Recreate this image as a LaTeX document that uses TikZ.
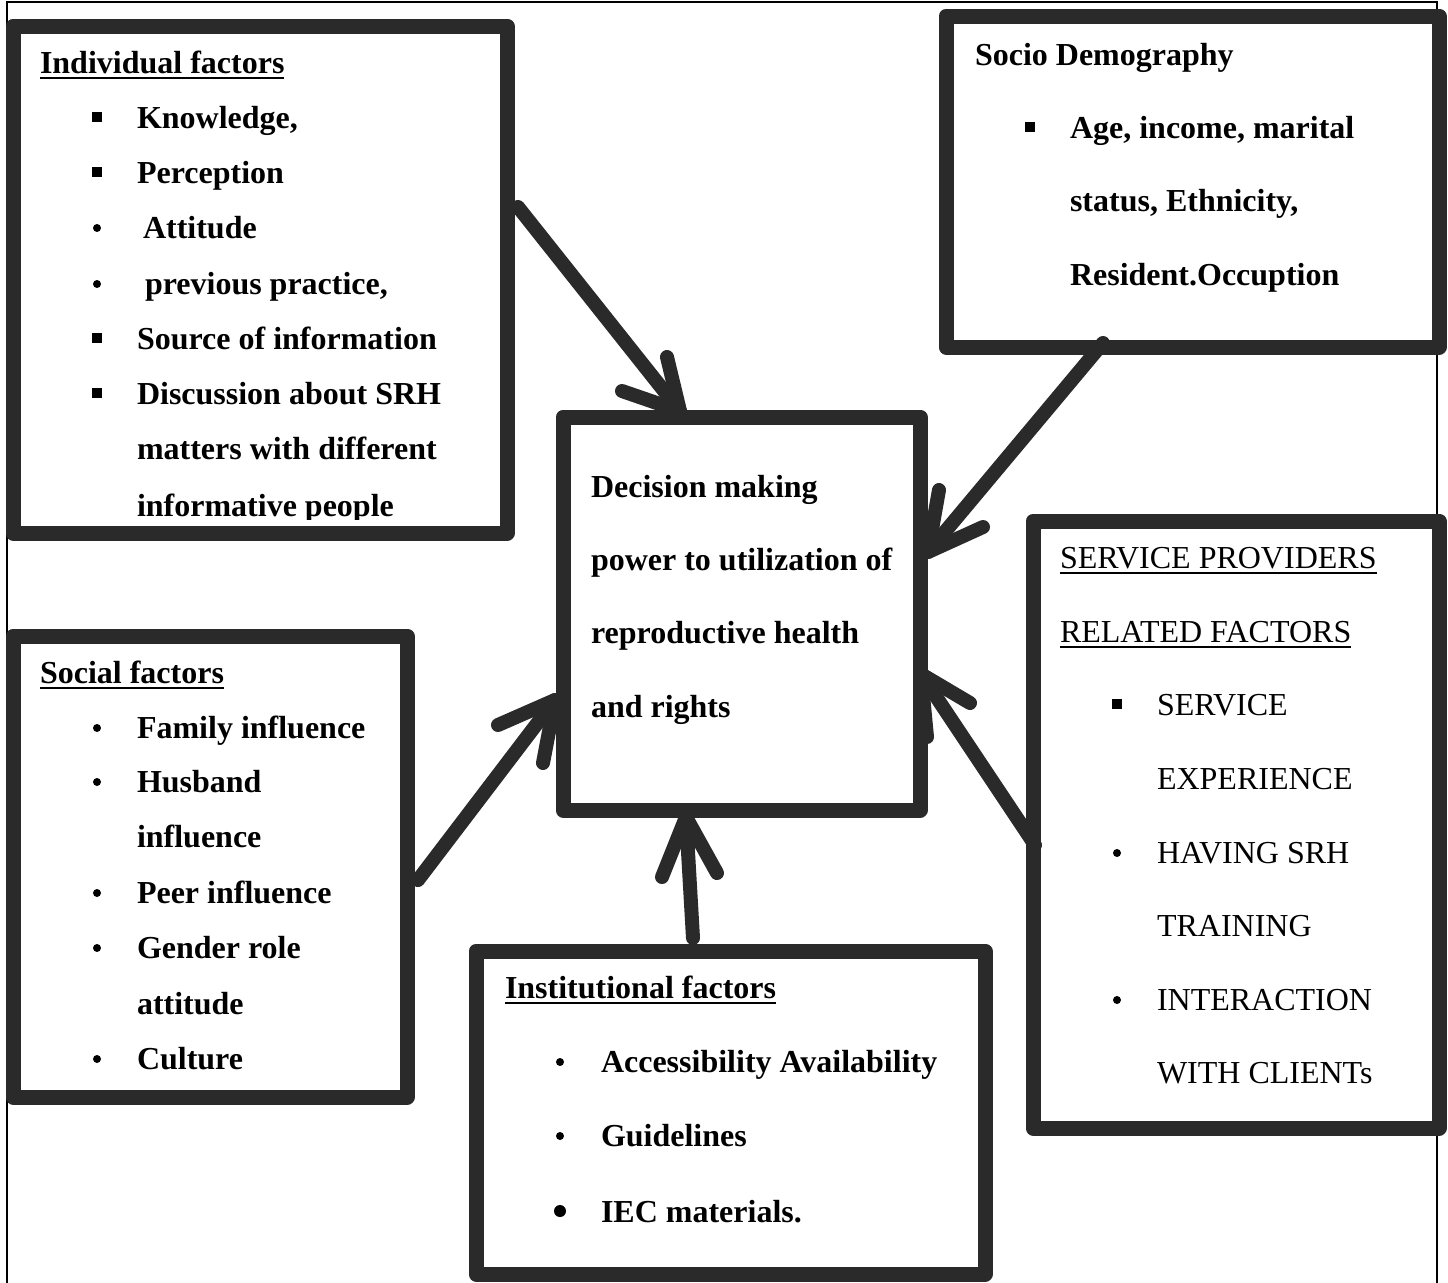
\documentclass[tikz,border=0pt]{standalone}
\usepackage{fontspec}
\setmainfont{Liberation Serif}
\definecolor{boxgray}{HTML}{2A2A2A}
\tikzset{
  box/.style={draw=boxgray, line width=7.5pt, line join=round, fill=white, inner sep=0pt, outer sep=0pt},
  arr/.style={draw=boxgray, line width=7pt, line cap=round, line join=round},
  txt/.style={anchor=base west, inner sep=0pt, outer sep=0pt, font=\fontsize{16}{19}\selectfont\bfseries},
  txtr/.style={anchor=base west, inner sep=0pt, outer sep=0pt, font=\fontsize{16}{19}\selectfont},
  uline/.style={line width=1.1pt, black},
  frame/.style={line width=1pt, black}
}
\newcommand{\sqb}[2]{\fill[black] (#1-5,#2-16) rectangle (#1+5,#2-6);}
\newcommand{\rdb}[2]{\fill[black] (#1,#2-10) circle (2pt);}
\newcommand{\rdbig}[2]{\fill[black] (#1,#2-11) circle (3pt);}
\begin{document}
\begin{tikzpicture}[x={(0.5pt,0)}, y={(0,-0.5pt)}]
\useasboundingbox (0,0) rectangle (1448,1282);
\fill[white] (0,0) rectangle (1448,1282);
% outer frame
\draw[frame] (7,1290) -- (7,2) -- (1437,2) -- (1437,1290);

% boxes
\node[box, minimum width=247pt, minimum height=253.5pt] (ind) at (260,279.5) {};
\node[box, minimum width=246.5pt, minimum height=165.5pt] (soc) at (1192.5,181.5) {};
\node[box, minimum width=178.5pt, minimum height=196.5pt] (dec) at (741.5,613.5) {};
\node[box, minimum width=203pt, minimum height=303.5pt] (srv) at (1236,824.5) {};
\node[box, minimum width=197pt, minimum height=230.5pt] (sf) at (210,866.5) {};
\node[box, minimum width=254.5pt, minimum height=161.5pt] (ins) at (730.5,1112.5) {};

% Individual factors
\node[txt] (t1) at (40,73) {Individual factors};
\draw[uline] ([yshift=-2.5pt]t1.base west) -- ([yshift=-2.5pt]t1.base east);
\sqb{97}{128}\node[txt] (i1) at (137,128) {Knowledge,};
\sqb{97}{183}\node[txt] (i2) at (137,183) {Perception};
\rdb{97}{238}\node[txt] (i3) at (143,238) {Attitude};
\rdb{97}{294}\node[txt] (i4) at (145,294) {previous practice,};
\sqb{97}{349}\node[txt] (i5) at (137,349) {Source of information};
\sqb{97}{404}\node[txt] (i6) at (137,404) {Discussion about SRH};
\node[txt] (i7) at (137,459) {matters with different};
\begin{scope}
\clip (21,470) rectangle (499,519);
\node[txt] (i8) at (137,516) {informative people};
\end{scope}

% Socio Demography
\node[txt] (t2) at (975,65) {Socio Demography};
\sqb{1030}{138}\node[txt] (s1) at (1070,138) {Age, income, marital};
\node[txt] (s2) at (1070,211) {status, Ethnicity,};
\node[txt] (s3) at (1070,285) {Resident.Occuption};

% Decision
\node[txt] (d1) at (591,497) {Decision making};
\node[txt] (d2) at (591,570) {power to utilization of};
\node[txt] (d3) at (591,643) {reproductive health};
\node[txt] (d4) at (591,717) {and rights};

% Service providers
\node[txtr] (t3) at (1060,568) {SERVICE PROVIDERS};
\draw[uline] ([yshift=-2.5pt]t3.base west) -- ([yshift=-2.5pt]t3.base east);
\node[txtr] (t3b) at (1060,642) {RELATED FACTORS};
\draw[uline] ([yshift=-2.5pt]t3b.base west) -- ([yshift=-2.5pt]t3b.base east);
\sqb{1117}{715}\node[txtr] (p1) at (1157,715) {SERVICE};
\node[txtr] (p2) at (1157,789) {EXPERIENCE};
\rdb{1117}{863}\node[txtr] (p3) at (1157,863) {HAVING SRH};
\node[txtr] (p4) at (1157,936) {TRAINING};
\rdb{1117}{1010}\node[txtr] (p5) at (1157,1010) {INTERACTION};
\node[txtr] (p6) at (1157,1083) {WITH CLIENTs};

% Social factors
\node[txt] (t4) at (40,683) {Social factors};
\draw[uline] ([yshift=-2.5pt]t4.base west) -- ([yshift=-2.5pt]t4.base east);
\rdb{97}{738}\node[txt] (f1) at (137,738) {Family influence};
\rdb{97}{792}\node[txt] (f2) at (137,792) {Husband};
\node[txt] (f3) at (137,847) {influence};
\rdb{97}{903}\node[txt] (f4) at (137,903) {Peer influence};
\rdb{97}{958}\node[txt] (f5) at (137,958) {Gender role};
\node[txt] (f6) at (137,1014) {attitude};
\rdb{97}{1069}\node[txt] (f7) at (137,1069) {Culture};

% Institutional factors
\node[txt] (t5) at (505,998) {Institutional factors};
\draw[uline] ([yshift=-2.5pt]t5.base west) -- ([yshift=-2.5pt]t5.base east);
\rdb{560}{1072}\node[txt] (n1) at (601,1072) {Accessibility Availability};
\rdb{560}{1146}\node[txt] (n2) at (601,1146) {Guidelines};
\rdbig{560}{1222}\node[txt] (n3) at (601,1222) {IEC materials.};

% arrow coordinates
\coordinate (a1s) at (518,207); \coordinate (a1t) at (680,411);
\coordinate (a1l) at (622,391); \coordinate (a1r) at (667,357);
\coordinate (a2s) at (1103,343); \coordinate (a2t) at (928,552);
\coordinate (a2l) at (939,490); \coordinate (a2r) at (983,527);
\coordinate (a3s) at (418,880); \coordinate (a3t) at (555,700);
\coordinate (a3l) at (498,725); \coordinate (a3r) at (543,763);
\coordinate (a4s) at (693,938); \coordinate (a4t) at (686,817);
\coordinate (a4l) at (662,877); \coordinate (a4r) at (717,873);
\coordinate (a5s) at (1035,845); \coordinate (a5t) at (921,674);
\coordinate (a5l) at (970,703); \coordinate (a5r) at (927,737);

\draw[arr] (a1s) -- (a1t); \draw[arr] (a1l) -- (a1t) -- (a1r);
\draw[arr] (a2s) -- (a2t); \draw[arr] (a2l) -- (a2t) -- (a2r);
\draw[arr] (a3s) -- (a3t); \draw[arr] (a3l) -- (a3t) -- (a3r);
\draw[arr] (a4s) -- (a4t); \draw[arr] (a4l) -- (a4t) -- (a4r);
\draw[arr] (a5s) -- (a5t); \draw[arr] (a5l) -- (a5t) -- (a5r);
\end{tikzpicture}
\end{document}
